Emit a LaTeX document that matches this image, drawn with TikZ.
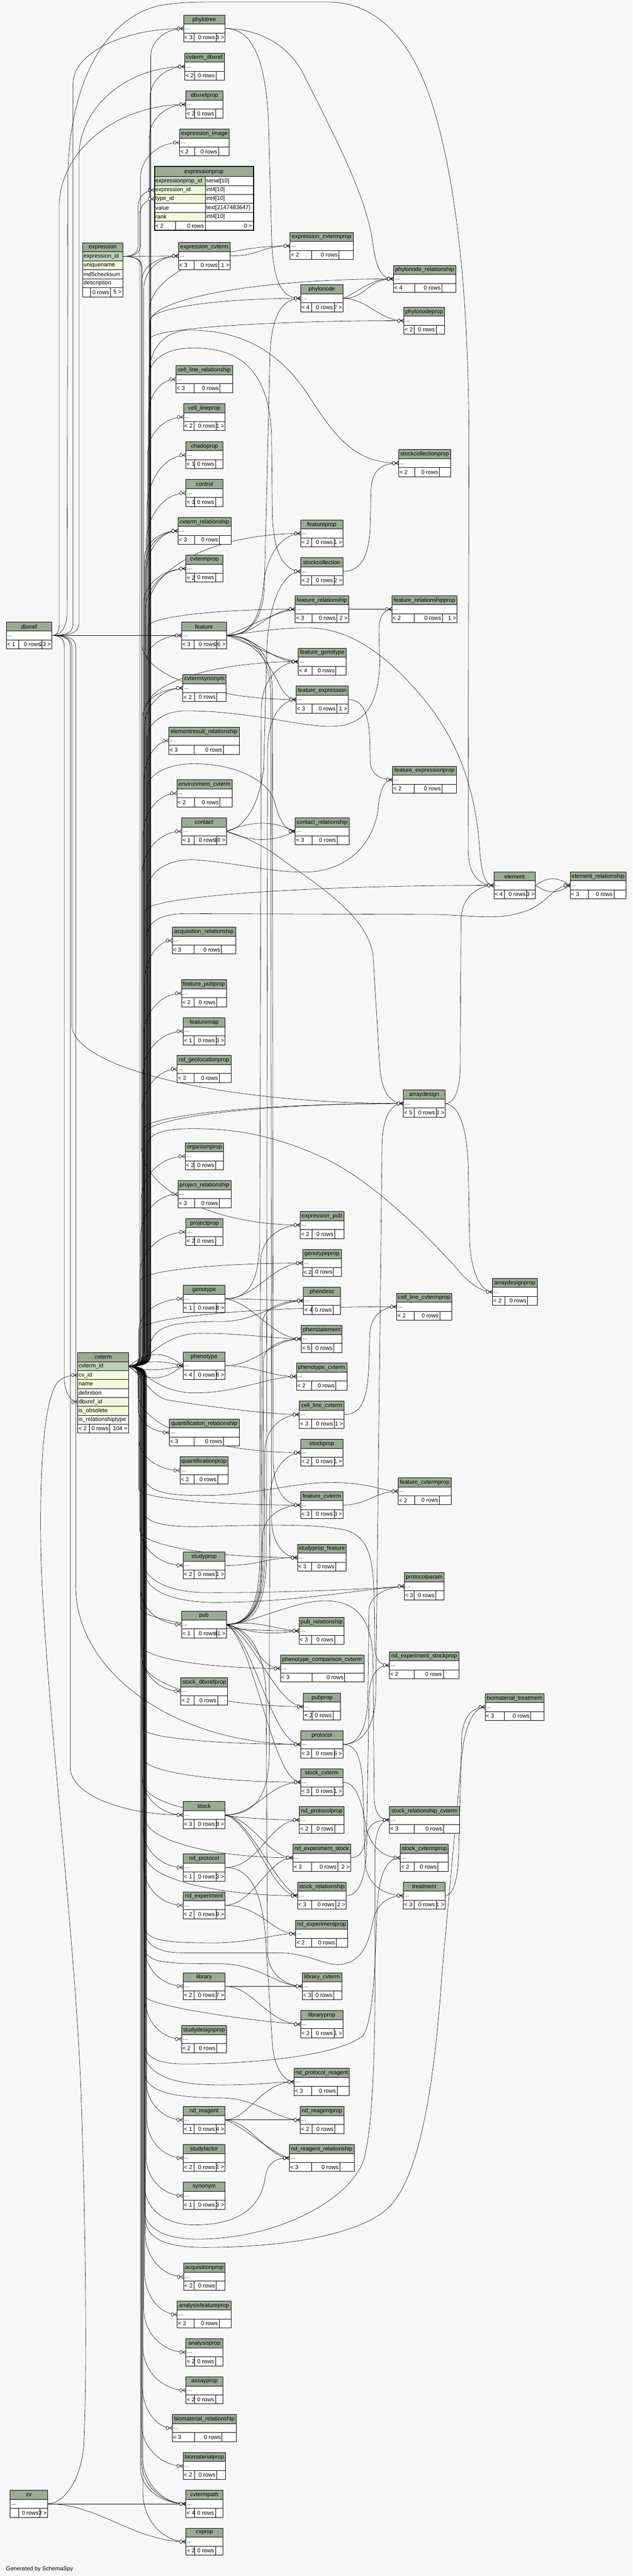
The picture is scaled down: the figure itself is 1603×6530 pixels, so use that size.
\documentclass[tikz,border=0pt]{standalone}
\usepackage{fontspec}
\setmainfont{Liberation Sans}
\pgfdeclarelayer{back}
\pgfdeclarelayer{edges}
\pgfsetlayers{back,edges,main}
\definecolor{hdr}{HTML}{9BAB96}
\definecolor{pkc}{HTML}{BED1B8}
\definecolor{idx}{HTML}{F4F7DA}
\definecolor{bgc}{HTML}{F7F7F7}
\newcommand\tabfont{\fontsize{14.5}{17}\selectfont}
\tikzset{
  fk/.style={draw=black,line width=0.75pt},
  crowst/.style={draw=black,line width=0.8pt},
  tline/.style={draw=black,line width=1pt},
  ttext/.style={font=\tabfont,inner sep=1pt,text=black}
}
\newcommand\setpt[3]{\expandafter\xdef\csname P@#1@x\endcsname{#2}\expandafter\xdef\csname P@#1@y\endcsname{#3}\coordinate (#1) at (#2,#3);}
\newcommand\gx[1]{\csname P@#1@x\endcsname}
\newcommand\gy[1]{\csname P@#1@y\endcsname}
\newcommand\crow[1]{\draw[crowst] (#1) ++(-8.5,0) -- ++(8.5,-4.5) ++(-8.5,4.5) -- ++(8.5,4.5);\draw[crowst,fill=white] (#1) ++(-12.5,0) ellipse[x radius=3.2,y radius=4.6];}
\newcommand\tbl[6]{%
\pgfmathsetmacro\qtA{#3+23}%
\pgfmathsetmacro\qtB{#3+45.6}%
\pgfmathsetmacro\qtC{#3+68.5}%
\pgfmathsetmacro\qtM{#3+34.3}%
\pgfmathsetmacro\qtH{#3+11.8}%
\pgfmathsetmacro\qtF{#3+57.2}%
\setbox0\hbox{\tabfont #5}\pgfmathsetmacro\qw{\the\wd0}\pgfmathsetmacro\qnA{max(17,\qw+8)}%
\setbox0\hbox{\tabfont #6}\pgfmathsetmacro\qw{\the\wd0}\pgfmathsetmacro\qnC{max(17,\qw+8)}%
\pgfmathsetmacro\qex{max(0,#4-#2-\qnA-\qnC-51)}%
\pgfmathsetmacro\qdA{#2+\qnA+\qex/2}%
\pgfmathsetmacro\qdB{#4-\qnC-\qex/4}%
\fill[hdr] (#2,#3) rectangle (#4,\qtA);%
\fill[white] (#2,\qtA) rectangle (#4,\qtC);%
\draw[tline] (#2,#3) rectangle (#4,\qtC) (#2,\qtA) -- (#4,\qtA) (#2,\qtB) -- (#4,\qtB) (\qdA,\qtB) -- (\qdA,\qtC) (\qdB,\qtB) -- (\qdB,\qtC);%
\node[ttext] (#1) at ({(#2+#4)/2},\qtH) {\detokenize{#1}};%
\node[ttext,anchor=west] (#1-dots) at ({#2+2},{\qtM+2}) {...};%
\node[ttext,anchor=west] (#1-pa) at ({#2+1},\qtF) {#5};%
\node[ttext,anchor=east] (#1-rows) at ({\qdB-2},\qtF) {0 rows};%
\node[ttext,anchor=east] (#1-ch) at ({#4-1},\qtF) {#6};%
\setpt{#1-in}{#2}{\qtM}\setpt{#1-out}{#4}{\qtM}}
\newcommand\dcell[7]{\filldraw[tline,fill=#5] (#1,#2) rectangle (#3,#4); \node[ttext,anchor=west] (#7) at ({#1+1},{(#2+#4)/2}) {#6};}
\newcommand\dcellr[7]{\filldraw[tline,fill=#5] (#1,#2) rectangle (#3,#4); \node[ttext,anchor=east] (#7) at ({#3-2},{(#2+#4)/2}) {#6};}
\newcommand\bE[4]{%
\pgfmathsetmacro\qsx{\gx{#1}}%
\pgfmathsetmacro\qsy{\gy{#1}}%
\pgfmathsetmacro\qtx{\gx{#3}}%
\pgfmathsetmacro\qty{\gy{#3}}%
\pgfmathsetmacro\qsg{(\qty>\qsy)?1:-1}%
\pgfmathsetmacro\qDD{min(#4,abs(\qty-\qsy)-45)}%
\pgfmathsetmacro\qya{\qsy+(\qsg)*30}%
\pgfmathsetmacro\qyd{\qsy+(\qsg)*8}%
\pgfmathsetmacro\qxe{\qsx+0.7*(#2-\qsx)}%
\pgfmathsetmacro\qyb{\qty-(\qsg)*\qDD}%
\pgfmathsetmacro\qyc{\qty-(\qsg)*0.45*\qDD}%
\pgfmathsetmacro\qxc{\qtx-0.55*(\qtx-#2)}%
\draw[fk] (#1) .. controls (\qxe,\qsy) and (#2,\qyd) .. (#2,\qya) -- (#2,\qyb) .. controls (#2,\qyc) and (\qxc,\qty) .. (#3);%
\crow{#3}}
\newcommand\cU[3]{\draw[fk] (cvterm-out) .. controls ({326+0.7*(#1-326)},3463.3) and (#1,3455.3) .. (#1,3433.3) #2 (#3);\crow{#3}}
\newcommand\cD[3]{\draw[fk] (cvterm-out) .. controls ({326+0.7*(#1-326)},3463.3) and (#1,3471.3) .. (#1,3493.3) #2 (#3);\crow{#3}}
\newcommand\mE[3]{\draw[fk] (#1) #2 (#3);\crow{#3}}
\begin{document}
\begin{tikzpicture}[x=1pt,y=-1pt]
\useasboundingbox (0,0) rectangle (1603,6530);
\begin{pgfonlayer}{back}\fill[bgc] (0,0) rectangle (1603,6530);\end{pgfonlayer}

% ---------- detailed tables ----------
% expressionprop
\fill[hdr] (391.5,422) rectangle (642,447.7);
\node[ttext] (expressionprop) at (516.75,435.3) {expressionprop};
\dcell{391.5}{447.7}{520}{470.3}{pkc}{expressionprop\_id}{ep-c1}
\dcell{520}{447.7}{642}{470.3}{white}{serial[10]}{ep-t1}
\dcell{391.5}{470.3}{520}{492.9}{idx}{expression\_id}{ep-c2}
\dcell{520}{470.3}{642}{492.9}{white}{int4[10]}{ep-t2}
\dcell{391.5}{492.9}{520}{515.5}{idx}{type\_id}{ep-c3}
\dcell{520}{492.9}{642}{515.5}{white}{int4[10]}{ep-t3}
\dcell{391.5}{515.5}{520}{538.1}{white}{value}{ep-c4}
\dcell{520}{515.5}{642}{538.1}{white}{text[2147483647]}{ep-t4}
\dcell{391.5}{538.1}{520}{560.7}{idx}{rank}{ep-c5}
\dcell{520}{538.1}{642}{560.7}{white}{int4[10]}{ep-t5}
\dcell{391.5}{560.7}{444.7}{584}{white}{< 2}{ep-f1}
\dcellr{444.7}{560.7}{520}{584}{white}{0 rows}{ep-f2}
\dcellr{520}{560.7}{642}{584}{white}{0 >}{ep-f3}
\draw[line width=2.5pt] (391.5,422) rectangle (642,584);
\setpt{ep-expr}{391.5}{481.6}
\setpt{ep-type}{391.5}{504.2}
% expression
\fill[hdr] (209.5,615.6) rectangle (311,638);
\node[ttext] (expression) at (260.25,626.8) {expression};
\dcell{209.5}{638}{311}{661.5}{pkc}{expression\_id}{ex-c1}
\dcell{209.5}{661.5}{311}{684}{idx}{uniquename}{ex-c2}
\dcell{209.5}{684}{311}{706.6}{white}{md5checksum}{ex-c3}
\dcell{209.5}{706.6}{311}{729}{white}{description}{ex-c4}
\dcell{209.5}{729}{229}{752.5}{white}{}{ex-f1}
\dcellr{229}{729}{280}{752.5}{white}{0 rows}{ex-f2}
\dcellr{280}{729}{311}{752.5}{white}{5 >}{ex-f3}
\draw[tline] (209.5,615.6) rectangle (311,752.5);
\setpt{expression-out}{311}{649.75}
% cvterm
\fill[hdr] (197,3429) rectangle (326,3452);
\node[ttext] (cvterm) at (261.5,3440.5) {cvterm};
\dcell{197}{3452}{326}{3474.6}{pkc}{cvterm\_id}{cv-c1}
\dcell{197}{3474.6}{326}{3497.2}{idx}{cv\_id}{cv-c2}
\dcell{197}{3497.2}{326}{3519.8}{idx}{name}{cv-c3}
\dcell{197}{3519.8}{326}{3542.4}{white}{definition}{cv-c4}
\dcell{197}{3542.4}{326}{3565}{idx}{dbxref\_id}{cv-c5}
\dcell{197}{3565}{326}{3587.6}{idx}{is\_obsolete}{cv-c6}
\dcell{197}{3587.6}{326}{3610.2}{white}{is\_relationshiptype}{cv-c7}
\dcell{197}{3610.2}{227}{3633}{white}{< 2}{cv-f1}
\dcellr{227}{3610.2}{278}{3633}{white}{0 rows}{cv-f2}
\dcellr{278}{3610.2}{326}{3633}{white}{104 >}{cv-f3}
\draw[tline] (197,3429) rectangle (326,3633);
\setpt{cvterm-out}{326}{3463.3}
\setpt{cvterm-cv}{197}{3485.9}
\setpt{cvterm-dbx}{197}{3553.7}

% ---------- compact tables ----------
\tbl{phylotree}{465}{38}{570}{< 3}{3 >}
\tbl{cvterm_dbxref}{468}{134.5}{568}{< 2}{}
\tbl{dbxrefprop}{471}{230.5}{565}{< 2}{}
\tbl{expression_image}{455}{327}{581}{< 2}{}
\tbl{expression_cvterm}{452}{614.5}{583}{< 3}{1 >}
\tbl{expression_cvtermprop}{735}{589}{894.5}{< 2}{}
\tbl{phylonode_relationship}{997}{672.6}{1155}{< 4}{}
\tbl{phylonode}{761.6}{722}{869}{< 4}{7 >}
\tbl{phylonodeprop}{1023}{778.6}{1126.6}{< 2}{}
\tbl{cell_line_relationship}{445.7}{927}{589}{< 3}{}
\tbl{cell_lineprop}{465}{1023}{570}{< 2}{1 >}
\tbl{chadoprop}{471}{1119.5}{565}{< 1}{}
\tbl{control}{471}{1215.5}{565}{< 3}{}
\tbl{cvterm_relationship}{451}{1311.5}{585}{< 3}{}
\tbl{cvtermprop}{471}{1407}{565}{< 2}{}
\tbl{featureprop}{761.6}{1318}{869}{< 2}{1 >}
\tbl{stockcollectionprop}{1010}{1139.7}{1142}{< 2}{}
\tbl{stockcollection}{761.6}{1414}{869}{< 2}{2 >}
\tbl{feature_relationship}{748}{1510}{883}{< 3}{2 >}
\tbl{feature_relationshipprop}{992.6}{1510}{1158}{< 2}{1 >}
\tbl{dbxref}{16}{1576.6}{131}{< 1}{23 >}
\tbl{feature}{460}{1576.6}{573.5}{< 3}{26 >}
\tbl{feature_genotype}{755.5}{1643}{877}{< 4}{}
\tbl{cvtermsynonym}{463}{1710}{572.5}{< 2}{}
\tbl{feature_expression}{750}{1739}{882}{< 3}{1 >}
\tbl{elementresult_relationship}{428}{1843.5}{606}{< 3}{}
\tbl{feature_expressionprop}{994.7}{1942}{1156}{< 2}{}
\tbl{environment_cvterm}{448}{1976.7}{588}{< 2}{}
\tbl{contact}{460}{2073}{573.5}{< 1}{10 >}
\tbl{contact_relationship}{748}{2073}{884}{< 3}{}
\tbl{element}{1251}{2210}{1356.6}{< 4}{3 >}
\tbl{element_relationship}{1444.5}{2210}{1586.6}{< 3}{}
\tbl{acquisition_relationship}{436.5}{2350}{597}{< 3}{}
\tbl{feature_pubprop}{460}{2483.5}{573.5}{< 2}{}
\tbl{featuremap}{464}{2580}{570}{< 1}{3 >}
\tbl{nd_geolocationprop}{449}{2675.7}{585}{< 2}{}
\tbl{arraydesign}{1022}{2763}{1127.6}{< 5}{3 >}
\tbl{organismprop}{469}{2896.7}{566}{< 2}{}
\tbl{project_relationship}{451}{2992.6}{585}{< 3}{}
\tbl{projectprop}{471}{3089}{565}{< 2}{}
\tbl{expression_pub}{760.6}{3071}{871}{< 2}{}
\tbl{genotypeprop}{766.7}{3167.5}{865}{< 2}{}
\tbl{arraydesignprop}{1248}{3240.5}{1360.7}{< 2}{}
\tbl{genotype}{464}{3258}{570}{< 1}{8 >}
\tbl{phendesc}{769}{3263}{863}{< 4}{}
\tbl{cell_line_cvtermprop}{1005}{3278}{1145}{< 2}{}
\tbl{phenstatement}{763.6}{3359.7}{867}{< 5}{}
\tbl{phenotype}{464}{3427.5}{570}{< 4}{6 >}
\tbl{phenotype_cvterm}{751}{3455}{879}{< 2}{}
\tbl{cell_line_cvterm}{758.5}{3551.6}{871}{< 3}{1 >}
\tbl{quantification_relationship}{429}{3597}{606}{< 3}{}
\tbl{stockprop}{761.6}{3648}{869}{< 2}{1 >}
\tbl{quantificationprop}{456}{3693}{577.6}{< 2}{}
\tbl{feature_cvtermprop}{1009}{3746}{1143}{< 2}{}
\tbl{feature_cvterm}{761.6}{3781}{869}{< 3}{3 >}
\tbl{studyprop_feature}{753.5}{3914}{877}{< 3}{}
\tbl{studyprop}{464}{3934}{570}{< 2}{1 >}
\tbl{protocolparam}{1024}{3987}{1125.6}{< 3}{}
\tbl{pub}{460}{4083.7}{573.5}{< 1}{41 >}
\tbl{pub_relationship}{757.5}{4099.7}{872}{< 3}{}
\tbl{phenotype_comparison_cvterm}{710.5}{4195}{922}{< 3}{}
\tbl{nd_experiment_stockprop}{986.5}{4187}{1163}{< 2}{}
\tbl{stock_dbxrefprop}{458}{4253}{576.6}{< 2}{}
\tbl{pubprop}{769}{4291.6}{863}{< 2}{}
\tbl{biomaterial_treatment}{1229}{4293}{1378}{< 3}{}
\tbl{protocol}{761.6}{4387.5}{869}{< 3}{6 >}
\tbl{stock_cvterm}{761.6}{4483.4}{869}{< 3}{1 >}
\tbl{stock}{464}{4566.5}{570}{< 3}{9 >}
\tbl{nd_protocolprop}{758.5}{4579}{872}{< 2}{}
\tbl{stock_relationship_cvterm}{986.5}{4579}{1164}{< 3}{}
\tbl{nd_experiment_stock}{742}{4675}{888}{< 3}{2 >}
\tbl{stock_cvtermprop}{1014}{4675}{1136}{< 2}{}
\tbl{nd_protocol}{464}{4699.6}{570}{< 1}{3 >}
\tbl{stock_relationship}{753.5}{4771}{877}{< 3}{2 >}
\tbl{treatment}{1022}{4771}{1127.6}{< 3}{1 >}
\tbl{nd_experiment}{464}{4795.5}{570}{< 2}{9 >}
\tbl{nd_experimentprop}{749}{4867.5}{881}{< 2}{}
\tbl{library}{464}{5000.6}{570}{< 2}{7 >}
\tbl{library_cvterm}{765.7}{5000.6}{866}{< 3}{}
\tbl{libraryprop}{761.6}{5097}{869}{< 2}{1 >}
\tbl{studydesignprop}{460}{5134.4}{573.5}{< 2}{}
\tbl{nd_protocol_reagent}{745}{5243}{885}{< 3}{}
\tbl{nd_reagent}{464}{5339.5}{570}{< 1}{4 >}
\tbl{nd_reagentprop}{760.6}{5339.5}{871}{< 2}{}
\tbl{studyfactor}{464}{5436}{570}{< 2}{1 >}
\tbl{nd_reagent_relationship}{733}{5436}{897.6}{< 3}{}
\tbl{synonym}{464}{5531.7}{570}{< 1}{3 >}
\tbl{acquisitionprop}{465}{5737}{570}{< 2}{}
\tbl{analysisfeatureprop}{449}{5832.7}{585}{< 2}{}
\tbl{analysisprop}{471}{5928.6}{565}{< 2}{}
\tbl{assayprop}{471}{6025}{565}{< 2}{}
\tbl{biomaterial_relationship}{436.5}{6120.6}{599}{< 3}{}
\tbl{biomaterialprop}{464}{6216.8}{571.5}{< 2}{}
\tbl{cv}{25.6}{6312.7}{120.6}{}{3 >}
\tbl{cvtermpath}{471}{6312.7}{565}{< 4}{}
\tbl{cvprop}{471}{6408.5}{565}{< 2}{}

\node[ttext,anchor=west] (generated) at (14,6512) {Generated by SchemaSpy};

% ---------- connectors ----------
\begin{pgfonlayer}{edges}
% dbxref
\mE{dbxref-out}{.. controls (152,1610.9) and (170,1595) .. (170,1550) -- (172,450) .. controls (174,220) and (260,50) .. (400,15) .. controls (450,5) and (500,5) .. (560,5) -- (830,5) .. controls (960,5) and (1050,110) .. (1100,280) .. controls (1150,450) and (1186,700) .. (1188,1100) -- (1186,2150) .. controls (1186,2220) and (1215,2244.3) ..}{element-in}
\bE{dbxref-out}{185}{phylotree-in}{140}
\bE{dbxref-out}{200}{cvterm_dbxref-in}{230}
\bE{dbxref-out}{150}{dbxrefprop-in}{260}
\mE{dbxref-out}{--}{feature-in}
\bE{dbxref-out}{163}{cvterm-dbx}{60}
\bE{dbxref-out}{178}{stock-in}{120}
\bE{dbxref-out}{192}{protocol-in}{400}
\bE{dbxref-out}{182}{arraydesign-in}{200}
% expression
\bE{expression-out}{350}{ep-expr}{40}
\bE{expression-out}{356}{expression_image-in}{90}
\mE{expression-out}{--}{expression_cvterm-in}
\bE{expression-out}{360}{feature_expression-in}{140}
\bE{expression-out}{358}{expression_pub-in}{200}
% cvterm up, middle column
\bE{cvterm-out}{382}{phylotree-in}{70}
\bE{cvterm-out}{380}{cvterm_dbxref-in}{80}
\bE{cvterm-out}{378}{dbxrefprop-in}{85}
\bE{cvterm-out}{354}{ep-type}{40}
\bE{cvterm-out}{360}{expression_cvterm-in}{60}
\bE{cvterm-out}{364}{expression_cvterm-in}{85}
\bE{cvterm-out}{376}{cell_line_relationship-in}{90}
\bE{cvterm-out}{374}{cell_lineprop-in}{95}
\bE{cvterm-out}{372}{chadoprop-in}{140}
\bE{cvterm-out}{370}{control-in}{130}
\bE{cvterm-out}{366}{cvterm_relationship-in}{70}
\bE{cvterm-out}{368}{cvterm_relationship-in}{90}
\bE{cvterm-out}{370}{cvterm_relationship-in}{110}
\bE{cvterm-out}{364}{cvtermprop-in}{90}
\bE{cvterm-out}{368}{cvtermprop-in}{110}
\bE{cvterm-out}{372}{feature-in}{60}
\bE{cvterm-out}{362}{cvtermsynonym-in}{70}
\bE{cvterm-out}{366}{cvtermsynonym-in}{100}
\bE{cvterm-out}{364}{elementresult_relationship-in}{110}
\bE{cvterm-out}{362}{environment_cvterm-in}{110}
\bE{cvterm-out}{360}{contact-in}{110}
\bE{cvterm-out}{366}{acquisition_relationship-in}{110}
\bE{cvterm-out}{364}{feature_pubprop-in}{110}
\bE{cvterm-out}{362}{featuremap-in}{110}
\bE{cvterm-out}{360}{nd_geolocationprop-in}{110}
\bE{cvterm-out}{358}{organismprop-in}{110}
\bE{cvterm-out}{356}{project_relationship-in}{110}
\bE{cvterm-out}{354}{projectprop-in}{110}
\bE{cvterm-out}{352}{genotype-in}{80}
% cvterm up, right columns
\bE{cvterm-out}{378}{expression_cvtermprop-in}{166}
\bE{cvterm-out}{380}{phylonode_relationship-in}{110}
\bE{cvterm-out}{381}{phylonode-in}{55}
\bE{cvterm-out}{382}{phylonodeprop-in}{45}
\bE{cvterm-out}{376}{featureprop-in}{190}
\bE{cvterm-out}{374}{feature_relationship-in}{45}
\bE{cvterm-out}{370}{feature_genotype-in}{120}
\bE{cvterm-out}{368}{element-in}{65}
\bE{cvterm-out}{362}{arraydesign-in}{67}
\bE{cvterm-out}{366}{arraydesign-in}{78}
\bE{cvterm-out}{356}{genotypeprop-in}{45}
\bE{cvterm-out}{354}{cell_line_cvtermprop-in}{60}
\cU{378}{-- (378,950) .. controls (378,880) and (420,837) .. (480,837) .. controls (600,837) and (700,880) .. (780,1000) .. controls (850,1110) and (900,1174) ..}{stockcollectionprop-in}
\cU{377}{-- (377,960) .. controls (377,905) and (430,882) .. (490,882) .. controls (600,882) and (680,930) .. (688,1100) -- (690,1300) .. controls (692,1420) and (730,1448.3) ..}{stockcollection-in}
\cU{373}{-- (373,1870) .. controls (373,1830) and (420,1802) .. (470,1802) .. controls (650,1802) and (780,1850) .. (860,1840) .. controls (940,1830) and (960,1760) .. (962,1680) -- (960,1600) .. controls (960,1560) and (975,1544.3) ..}{feature_relationshipprop-in}
\cU{374}{-- (374,2260) .. controls (374,2200) and (440,2175) .. (500,2180) .. controls (620,2190) and (700,2215) .. (790,2210) .. controls (900,2200) and (950,2120) .. (958,2050) .. controls (962,2000) and (975,1976.3) ..}{feature_expressionprop-in}
\cU{373}{-- (373,2000) .. controls (373,1960) and (430,1936) .. (491,1936) .. controls (600,1936) and (680,1980) .. (695,2030) .. controls (705,2070) and (720,2107.3) ..}{contact_relationship-in}
\cU{374}{-- (374,2370) .. controls (374,2330) and (420,2316) .. (470,2316) -- (1100,2318) .. controls (1200,2320) and (1260,2335) .. (1330,2310) .. controls (1390,2290) and (1400,2244.3) ..}{element_relationship-in}
\cU{372}{-- (372,2910) .. controls (372,2870) and (420,2861) .. (491,2861) .. controls (600,2861) and (700,2880) .. (818,2934) .. controls (950,2995) and (1100,3150) .. (1170,3230) .. controls (1200,3262) and (1225,3274.8) ..}{arraydesignprop-in}
% cvterm near
\mE{cvterm-out}{.. controls (360,3463.3) and (375,3440) .. (380,3410) .. controls (390,3360) and (440,3350) .. (560,3350) .. controls (650,3350) and (700,3297.3) ..}{phendesc-in}
\mE{cvterm-out}{.. controls (370,3460) and (400,3385) .. (500,3380) .. controls (600,3378) and (700,3394) ..}{phenstatement-in}
\mE{cvterm-out}{.. controls (380,3420) and (420,3428) ..}{phenotype-in}
\mE{cvterm-out}{.. controls (380,3445) and (420,3452) ..}{phenotype-in}
\mE{cvterm-out}{.. controls (380,3480) and (420,3470) ..}{phenotype-in}
\mE{cvterm-out}{.. controls (380,3510) and (420,3495) ..}{phenotype-in}
\mE{cvterm-out}{.. controls (360,3470) and (400,3530) .. (490,3531) .. controls (600,3532) and (680,3489.3) ..}{phenotype_cvterm-in}
\mE{cvterm-out}{.. controls (355,3480) and (380,3535) .. (420,3548) .. controls (550,3570) and (700,3585.9) ..}{cell_line_cvterm-in}
% cvterm down, middle column
\bE{cvterm-out}{350}{quantification_relationship-in}{60}
\bE{cvterm-out}{352}{quantificationprop-in}{80}
\bE{cvterm-out}{354}{studyprop-in}{100}
\bE{cvterm-out}{356}{pub-in}{90}
\bE{cvterm-out}{358}{stock_dbxrefprop-in}{100}
\bE{cvterm-out}{360}{stock-in}{100}
\bE{cvterm-out}{362}{nd_protocol-in}{100}
\bE{cvterm-out}{364}{nd_experiment-in}{100}
\bE{cvterm-out}{366}{library-in}{100}
\bE{cvterm-out}{368}{studydesignprop-in}{100}
\bE{cvterm-out}{370}{nd_reagent-in}{100}
\bE{cvterm-out}{372}{studyfactor-in}{100}
\bE{cvterm-out}{370}{synonym-in}{100}
\bE{cvterm-out}{368}{acquisitionprop-in}{110}
\bE{cvterm-out}{366}{analysisfeatureprop-in}{110}
\bE{cvterm-out}{364}{analysisprop-in}{110}
\bE{cvterm-out}{362}{assayprop-in}{110}
\bE{cvterm-out}{360}{biomaterial_relationship-in}{110}
\bE{cvterm-out}{358}{biomaterialprop-in}{110}
\bE{cvterm-out}{356}{cvtermpath-in}{90}
\bE{cvterm-out}{358}{cvtermpath-in}{110}
\bE{cvterm-out}{360}{cvtermpath-in}{125}
\bE{cvterm-out}{362}{cvprop-in}{125}
% cvterm down, right columns
\bE{cvterm-out}{350}{stockprop-in}{150}
\bE{cvterm-out}{352}{feature_cvterm-in}{40}
\bE{cvterm-out}{354}{studyprop_feature-in}{70}
\bE{cvterm-out}{356}{pub_relationship-in}{60}
\bE{cvterm-out}{358}{phenotype_comparison_cvterm-in}{60}
\bE{cvterm-out}{360}{pubprop-in}{120}
\bE{cvterm-out}{362}{protocol-in}{40}
\bE{cvterm-out}{364}{stock_cvterm-in}{60}
\bE{cvterm-out}{366}{nd_protocolprop-in}{90}
\bE{cvterm-out}{368}{nd_experiment_stock-in}{100}
\bE{cvterm-out}{370}{stock_relationship-in}{100}
\cD{366}{-- (366,3740) .. controls (366,3780) and (420,3791) .. (511,3791) .. controls (650,3791) and (750,3755) .. (850,3758) .. controls (940,3760) and (970,3780.3) ..}{feature_cvtermprop-in}
\cD{364}{-- (364,3830) .. controls (364,3860) and (420,3871) .. (500,3870) .. controls (650,3866) and (800,3860) .. (880,3880) .. controls (935,3900) and (945,3950) .. (948,4050) -- (950,4180) .. controls (952,4210) and (965,4221.3) ..}{nd_experiment_stockprop-in}
\cD{364}{-- (364,3960) .. controls (364,4000) and (420,4036) .. (520,4037) .. controls (700,4038) and (900,4030) ..}{protocolparam-in}
\cD{366}{-- (366,3980) .. controls (366,4030) and (430,4060) .. (540,4062) .. controls (750,4062) and (900,4030) ..}{protocolparam-in}
\cD{366}{-- (366,4890) .. controls (366,4930) and (400,4950) .. (460,4950) -- (700,4950) .. controls (780,4950) and (820,4982) .. (860,4980) .. controls (920,4975) and (935,4920) .. (945,4870) .. controls (955,4820) and (990,4805.3) ..}{treatment-in}
\cD{366}{-- (366,4880) .. controls (366,4920) and (420,4925) .. (540,4925) .. controls (640,4925) and (690,4901.8) ..}{nd_experimentprop-in}
\cD{368}{-- (368,4940) .. controls (368,4975) and (420,4978) .. (560,4978) .. controls (660,4980) and (700,5034.9) ..}{library_cvterm-in}
\cD{368}{-- (368,5060) .. controls (368,5085) and (650,5125) ..}{libraryprop-in}
\cD{366}{-- (366,5180) .. controls (366,5220) and (410,5232) .. (470,5232) .. controls (650,5232) and (860,5210) .. (920,5160) .. controls (945,5120) and (950,5000) .. (955,4850) .. controls (958,4750) and (980,4709.3) ..}{stock_cvtermprop-in}
\cD{366}{-- (366,5200) .. controls (366,5250) and (420,5283) .. (540,5285) .. controls (640,5287) and (700,5277.3) ..}{nd_protocol_reagent-in}
\cD{366}{-- (366,5250) .. controls (366,5300) and (430,5318) .. (560,5318) .. controls (650,5318) and (700,5373.8) ..}{nd_reagentprop-in}
\cD{366}{-- (366,5540) .. controls (366,5600) and (420,5640) .. (491,5640) .. controls (600,5640) and (660,5600) .. (672,5520) .. controls (678,5480) and (700,5470.3) ..}{nd_reagent_relationship-in}
\cD{366}{-- (366,5600) .. controls (366,5650) and (420,5676) .. (500,5676) .. controls (700,5676) and (880,5580) .. (920,5480) .. controls (945,5400) and (950,5200) .. (950,5000) -- (950,4700) .. controls (950,4640) and (965,4613.3) ..}{stock_relationship_cvterm-in}
\cD{368}{-- (368,5620) .. controls (368,5680) and (430,5697) .. (520,5697) .. controls (700,5697) and (900,5670) .. (980,5600) .. controls (1060,5530) and (1100,5300) .. (1120,5000) -- (1170,4450) .. controls (1180,4360) and (1205,4327.3) ..}{biomaterial_treatment-in}
% table to table
\mE{phylotree-out}{.. controls (620,72.3) and (670,110) .. (680,300) -- (688,600) .. controls (692,720) and (715,756.3) ..}{phylonode-in}
\mE{phylotree-out}{.. controls (650,72.3) and (730,110) .. (770,190) .. controls (850,350) and (930,500) .. (945,620) .. controls (955,690) and (970,706.9) ..}{phylonode_relationship-in}
\mE{phylonode-out}{.. controls (930,756.3) and (930,706.9) ..}{phylonode_relationship-in}
\mE{phylonode-out}{.. controls (900,745) and (950,700) ..}{phylonode_relationship-in}
\mE{phylonode-out}{.. controls (930,756.3) and (960,812.9) ..}{phylonodeprop-in}
\mE{feature-out}{.. controls (625,1610.9) and (668,1580) .. (670,1480) -- (684,900) .. controls (688,790) and (720,756.3) ..}{phylonode-in}
\mE{expression_cvterm-out}{.. controls (660,648.8) and (660,623.3) ..}{expression_cvtermprop-in}
\mE{stockcollection-out}{.. controls (920,1448.3) and (936,1400) .. (938,1330) -- (940,1240) .. controls (942,1190) and (970,1174) ..}{stockcollectionprop-in}
\mE{contact-out}{.. controls (615,2100) and (655,2050) .. (668,1950) -- (676,1650) .. controls (680,1520) and (720,1448.3) ..}{stockcollection-in}
\mE{feature-out}{.. controls (640,1610.9) and (660,1560) .. (668,1480) .. controls (676,1400) and (720,1352.3) ..}{featureprop-in}
\mE{feature-out}{.. controls (650,1610.9) and (680,1544.3) ..}{feature_relationship-in}
\mE{feature-out}{.. controls (630,1590) and (700,1550) ..}{feature_relationship-in}
\mE{feature_relationship-out}{--}{feature_relationshipprop-in}
\mE{feature-out}{.. controls (650,1610.9) and (680,1677.3) ..}{feature_genotype-in}
\mE{feature-out}{.. controls (630,1630) and (700,1670) ..}{feature_genotype-in}
\mE{genotype-out}{.. controls (630,3292.3) and (655,3250) .. (658,3150) -- (662,1800) .. controls (663,1710) and (720,1677.3) ..}{feature_genotype-in}
\mE{feature-out}{.. controls (650,1620) and (690,1700) .. (710,1740) .. controls (720,1760) and (735,1773.3) ..}{feature_expression-in}
\mE{pub-out}{.. controls (640,4118) and (672,4080) .. (675,3950) -- (678,1900) .. controls (679,1810) and (720,1773.3) ..}{feature_expression-in}
\mE{feature_expression-out}{.. controls (920,1773.3) and (935,1810) .. (937,1880) -- (938,1930) .. controls (940,1965) and (965,1976.3) ..}{feature_expressionprop-in}
\mE{feature-out}{.. controls (660,1600) and (720,1590) .. (790,1592) .. controls (900,1595) and (1000,1680) .. (1080,1780) .. controls (1160,1880) and (1205,2000) .. (1215,2150) .. controls (1220,2220) and (1230,2244.3) ..}{element-in}
\mE{contact-out}{.. controls (640,2080) and (690,2080) ..}{contact_relationship-in}
\mE{contact-out}{.. controls (640,2135) and (690,2135) ..}{contact_relationship-in}
\mE{contact-out}{.. controls (620,2120) and (680,2150) .. (716,2180) .. controls (800,2240) and (930,2320) .. (945,2420) -- (962,2700) .. controls (966,2770) and (990,2797.3) ..}{arraydesign-in}
\mE{protocol-out}{.. controls (910,4421.8) and (948,4390) .. (952,4300) -- (968,2900) .. controls (970,2830) and (990,2797.3) ..}{arraydesign-in}
\mE{element-out}{.. controls (1390,2222) and (1410,2222) ..}{element_relationship-in}
\mE{element-out}{.. controls (1390,2266) and (1410,2266) ..}{element_relationship-in}
\mE{arraydesign-out}{.. controls (1150,2797.3) and (1165,2770) .. (1166,2700) -- (1168,2330) .. controls (1170,2270) and (1215,2244.3) ..}{element-in}
\mE{arraydesign-out}{.. controls (1160,2800) and (1182,2850) .. (1186,2950) -- (1190,3150) .. controls (1195,3240) and (1225,3274.8) ..}{arraydesignprop-in}
\mE{genotype-out}{.. controls (650,3292.3) and (690,3201.8) ..}{genotypeprop-in}
\mE{genotype-out}{.. controls (660,3292.3) and (690,3297.3) ..}{phendesc-in}
\mE{genotype-out}{.. controls (640,3300) and (690,3394) ..}{phenstatement-in}
\mE{phenotype-out}{.. controls (650,3461.8) and (690,3394) ..}{phenstatement-in}
\mE{phenotype-out}{.. controls (650,3461.8) and (680,3489.3) ..}{phenotype_cvterm-in}
\mE{pub-out}{.. controls (625,4118) and (656,4075) .. (658,3960) -- (660,3200) .. controls (662,3130) and (720,3105.3) ..}{expression_pub-in}
\mE{pub-out}{.. controls (628,4118) and (660,4075) .. (662,3960) -- (664,3360) .. controls (665,3310) and (720,3297.3) ..}{phendesc-in}
\mE{pub-out}{.. controls (630,4118) and (664,4075) .. (666,3960) -- (667,3450) .. controls (668,3410) and (720,3394) ..}{phenstatement-in}
\mE{pub-out}{.. controls (632,4118) and (668,4075) .. (670,3960) -- (671,3680) .. controls (672,3615) and (720,3585.9) ..}{cell_line_cvterm-in}
\mE{pub-out}{.. controls (620,4118) and (660,4085) .. (662,4000) -- (664,3900) .. controls (665,3840) and (720,3815.3) ..}{feature_cvterm-in}
\mE{cell_line_cvterm-out}{.. controls (920,3585.9) and (932,3540) .. (935,3450) -- (937,3380) .. controls (940,3330) and (975,3312.3) ..}{cell_line_cvtermprop-in}
\mE{stock-out}{.. controls (640,4600.8) and (680,4560) .. (682,4450) -- (684,3800) .. controls (685,3720) and (730,3682.3) ..}{stockprop-in}
\mE{feature-out}{.. controls (640,1610.9) and (688,1650) .. (690,1750) -- (692,3700) .. controls (693,3790) and (730,3815.3) ..}{feature_cvterm-in}
\mE{feature-out}{.. controls (640,1610.9) and (684,1660) .. (686,1760) -- (688,3850) .. controls (689,3920) and (725,3948.3) ..}{studyprop_feature-in}
\mE{feature_cvterm-out}{.. controls (930,3815.3) and (950,3780.3) ..}{feature_cvtermprop-in}
\mE{studyprop-out}{.. controls (660,3968.3) and (670,3948.3) ..}{studyprop_feature-in}
\mE{nd_experiment_stock-out}{.. controls (920,4709.3) and (928,4680) .. (930,4600) -- (935,4300) .. controls (937,4240) and (960,4221.3) ..}{nd_experiment_stockprop-in}
\mE{protocol-out}{.. controls (905,4421.8) and (930,4390) .. (932,4300) -- (935,4080) .. controls (937,4040) and (990,4021.3) ..}{protocolparam-in}
\mE{pub-out}{.. controls (650,4105) and (690,4130) ..}{pub_relationship-in}
\mE{pub-out}{.. controls (640,4140) and (680,4145) ..}{pub_relationship-in}
\mE{pub-out}{.. controls (640,4130) and (650,4229.3) ..}{phenotype_comparison_cvterm-in}
\mE{pub-out}{.. controls (640,4140) and (700,4325.9) ..}{pubprop-in}
\mE{pub-out}{.. controls (640,4150) and (690,4421.8) ..}{protocol-in}
\mE{pub-out}{.. controls (645,4160) and (690,4517.7) ..}{stock_cvterm-in}
\mE{pub-out}{.. controls (620,4118) and (660,4093) .. (767,4065) .. controls (880,4040) and (940,4080) .. (945,4200) -- (948,4560) .. controls (950,4600) and (965,4613.3) ..}{stock_relationship_cvterm-in}
\mE{pub-out}{.. controls (640,4130) and (672,4200) .. (674,4300) -- (678,4950) .. controls (680,5010) and (730,5034.9) ..}{library_cvterm-in}
\mE{stock-out}{.. controls (650,4600.8) and (680,4517.7) ..}{stock_cvterm-in}
\mE{stock_cvterm-out}{.. controls (900,4517.7) and (915,4560) .. (925,4620) .. controls (935,4680) and (970,4709.3) ..}{stock_cvtermprop-in}
\mE{nd_protocol-out}{.. controls (660,4733.9) and (680,4613.3) ..}{nd_protocolprop-in}
\mE{stock-out}{.. controls (640,4610) and (680,4709.3) ..}{nd_experiment_stock-in}
\mE{nd_experiment-out}{.. controls (640,4829.8) and (680,4709.3) ..}{nd_experiment_stock-in}
\mE{stock-out}{.. controls (640,4620) and (690,4805.3) ..}{stock_relationship-in}
\mE{stock-out}{.. controls (625,4600.8) and (705,4790) ..}{stock_relationship-in}
\mE{stock_relationship-out}{.. controls (910,4805.3) and (925,4760) .. (928,4700) -- (930,4650) .. controls (935,4620) and (960,4613.3) ..}{stock_relationship_cvterm-in}
\mE{protocol-out}{.. controls (905,4421.8) and (918,4460) .. (920,4550) -- (925,4720) .. controls (930,4790) and (990,4805.3) ..}{treatment-in}
\mE{treatment-out}{.. controls (1150,4805.3) and (1160,4760) .. (1162,4700) -- (1170,4400) .. controls (1175,4345) and (1200,4327.3) ..}{biomaterial_treatment-in}
\mE{nd_experiment-out}{.. controls (660,4829.8) and (690,4901.8) ..}{nd_experimentprop-in}
\mE{library-out}{--}{library_cvterm-in}
\mE{library-out}{.. controls (640,5034.9) and (680,5131.3) ..}{libraryprop-in}
\mE{nd_protocol-out}{.. controls (620,4733.9) and (660,4770) .. (672,4900) -- (690,5180) .. controls (695,5250) and (725,5277.3) ..}{nd_protocol_reagent-in}
\mE{nd_reagent-out}{.. controls (630,5373.8) and (660,5277.3) ..}{nd_protocol_reagent-in}
\mE{nd_reagent-out}{--}{nd_reagentprop-in}
\mE{nd_reagent-out}{.. controls (630,5373.8) and (680,5470.3) ..}{nd_reagent_relationship-in}
\mE{nd_reagent-out}{.. controls (610,5385) and (690,5460) ..}{nd_reagent_relationship-in}
% cv
\mE{cv-out}{.. controls (160,6347) and (205,6290) .. (212,6200) .. controls (222,6000) and (216,5600) .. (205,5300) .. controls (190,4900) and (115,4300) .. (104,3950) .. controls (98,3700) and (115,3530) .. (150,3500) .. controls (162,3490) and (178,3485.9) ..}{cvterm-cv}
\mE{cv-out}{--}{cvtermpath-in}
\mE{cv-out}{.. controls (250,6347) and (340,6442.8) ..}{cvprop-in}
\end{pgfonlayer}
\end{tikzpicture}
\end{document}
